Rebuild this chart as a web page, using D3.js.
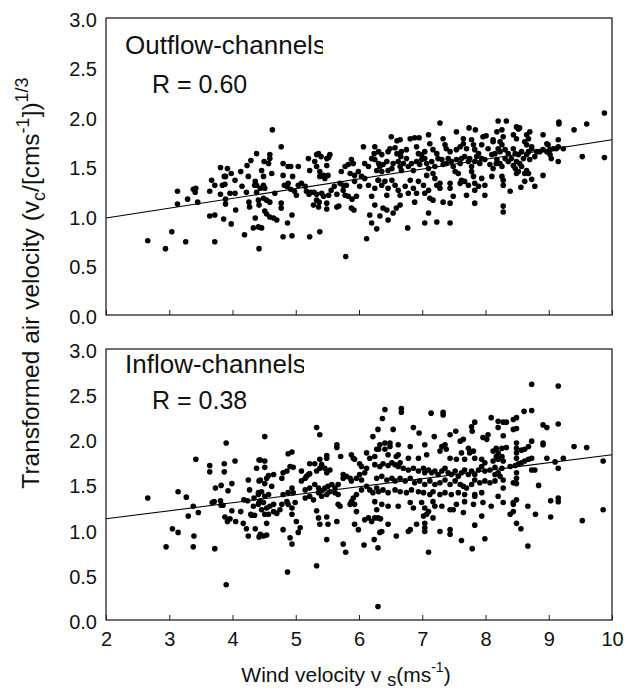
<!DOCTYPE html>
<html>
<head>
<meta charset="utf-8">
<script src="https://cdn.jsdelivr.net/npm/d3@7"></script>
<style>
body { margin: 0; background: #fff; }
text { font-family: "Liberation Sans", Arial, sans-serif; fill: #111; }
</style>
</head>
<body>
<script>
// points: [wind velocity, transformed air velocity]
var outflow = [
[2.66,0.75],[2.94,0.67],[3.04,0.84],[3.13,1.25],[3.13,1.12],[3.26,0.74],[3.29,1.17],[3.38,1.27],[3.41,1.24],[3.42,1.28],
[3.45,1.14],[3.64,1.25],[3.67,1.36],[3.64,1.00],[3.72,1.01],[3.72,0.74],[3.72,1.31],[3.81,1.49],[3.81,1.22],[3.84,1.31],
[3.88,1.32],[3.87,1.40],[3.89,1.40],[3.92,1.48],[3.89,1.17],[3.89,1.12],[3.86,0.97],[3.96,1.23],[4.04,1.23],[3.98,1.43],
[3.98,0.92],[4.04,1.36],[4.05,1.06],[4.13,1.45],[4.15,1.30],[4.22,1.24],[4.19,0.81],[4.23,1.51],[4.25,1.40],[4.26,1.14],
[4.27,1.09],[4.29,1.56],[4.33,0.88],[4.35,1.31],[4.38,1.24],[4.38,1.63],[4.41,1.16],[4.42,1.11],[4.42,0.67],
[4.44,1.28],[4.46,1.46],[4.49,1.40],[4.50,1.55],[4.57,1.53],[4.59,1.62],[4.59,1.58],[4.62,1.43],[4.49,1.31],[4.51,1.28],
[4.49,1.18],[4.54,1.16],[4.59,1.14],[4.36,0.98],[4.51,1.05],[4.54,1.02],[4.59,0.99],[4.65,0.98],[4.70,0.96],[4.41,0.89],
[4.46,0.88],[4.63,1.87],[4.77,1.70],[4.67,1.23],[4.77,1.13],[4.77,1.08],[4.80,1.53],[4.88,1.50],[4.92,1.50],[4.80,1.41],
[4.95,1.40],[5.04,1.50],[4.82,1.31],[4.86,1.30],[4.88,1.33],[4.92,1.27],[4.98,1.25],[5.01,1.21],[5.04,1.31],[5.09,1.33],
[5.15,1.30],[5.17,1.25],[5.21,1.22],[5.24,1.24],[5.29,1.24],[5.33,1.22],[4.94,1.01],[4.87,0.93],[4.80,0.79],[4.94,0.80],
[5.20,1.58],[5.22,1.46],[5.30,1.55],[5.33,1.62],[5.36,1.63],[5.40,1.60],[5.49,1.58],[5.52,1.59],[5.33,1.50],[5.38,1.45],
[5.44,1.41],[5.38,1.40],[5.46,1.38],[5.51,1.41],[5.22,0.79],[5.38,0.84],[5.28,1.11],[5.33,1.16],[5.37,1.14],[5.36,1.09],
[5.49,1.13],[5.49,1.07],[5.65,1.09],[5.68,1.10],[5.52,1.21],[5.56,1.26],[5.61,1.30],[5.65,1.22],[5.70,1.33],[5.75,1.31],
[5.80,1.31],[5.75,1.26],[5.78,1.21],[5.72,1.45],[5.78,1.50],[5.83,1.52],[5.88,1.57],[5.91,1.53],[5.86,1.43],[5.93,1.41],
[5.99,1.45],[6.04,1.40],[5.93,1.35],[5.88,1.08],[5.92,1.06],[5.83,1.20],[5.89,1.17],[5.96,1.20],[6.07,1.70],[6.12,0.77],
[5.79,0.59],[6.17,1.01],[6.20,0.93],[6.20,1.20],[6.25,1.11],[6.25,1.28],[6.30,1.36],[6.15,1.31],[6.09,1.38],[6.01,1.30],
[6.20,1.58],[6.24,1.63],[6.15,1.50],[6.09,1.53],[5.54,1.62],[5.49,1.51],[5.41,1.23],[5.44,1.20],[4.36,1.35],[4.38,1.31],
[7.28,1.94],[8.20,1.96],[6.51,1.80],[6.60,1.76],[6.65,1.77],[6.81,1.78],[6.88,1.79],[6.95,1.79],[7.10,1.82],[7.54,1.85],
[7.74,1.89],[7.84,1.87],[8.01,1.81],[8.12,1.77],[8.12,1.75],[6.25,1.70],[6.31,1.65],[6.36,1.62],[6.46,1.65],[6.49,1.68],
[6.57,1.69],[6.60,1.63],[6.66,1.60],[6.67,1.65],[6.75,1.67],[6.91,1.70],[6.94,1.63],[6.99,1.62],[7.04,1.65],[7.12,1.73],
[7.17,1.67],[7.23,1.63],[7.33,1.78],[7.36,1.72],[7.38,1.68],[7.44,1.65],[7.54,1.67],[7.60,1.70],[7.65,1.78],[7.65,1.73],
[7.70,1.68],[7.78,1.77],[7.81,1.72],[7.83,1.67],[7.89,1.63],[7.94,1.58],[7.96,1.80],[7.94,1.72],[8.04,1.68],[8.10,1.62],
[8.15,1.63],[8.20,1.68],
[6.25,1.57],[6.31,1.53],[6.33,1.50],[6.38,1.52],[6.44,1.55],[6.36,1.45],[6.28,1.46],[6.46,1.46],[6.52,1.48],[6.54,1.53],
[6.62,1.55],[6.65,1.50],[6.67,1.46],[6.70,1.53],[6.75,1.58],[6.78,1.50],[6.83,1.53],[6.86,1.46],[6.91,1.55],[6.96,1.52],
[6.99,1.57],[7.04,1.58],[7.07,1.53],[7.10,1.48],[7.15,1.55],[7.20,1.50],[7.25,1.58],[7.31,1.57],[7.33,1.52],[7.38,1.53],
[7.41,1.58],[7.46,1.55],[7.49,1.50],[7.54,1.57],[7.60,1.53],[7.62,1.58],[7.67,1.60],[7.73,1.55],[7.75,1.58],[7.78,1.50],
[7.83,1.55],[7.86,1.60],[7.91,1.53],[7.99,1.57],[8.07,1.52],[8.12,1.48],[8.17,1.53],
[6.31,1.36],[6.36,1.31],[6.41,1.35],[6.46,1.28],[6.44,1.21],[6.52,1.36],[6.57,1.31],[6.62,1.26],[6.65,1.21],[6.73,1.30],
[6.78,1.23],[6.81,1.36],[6.86,1.28],[6.91,1.23],[6.88,1.14],[6.94,1.35],[7.02,1.31],[7.04,1.23],[7.10,1.26],[7.07,1.41],
[7.17,1.43],[7.20,1.38],[7.23,1.31],[7.12,1.18],[7.17,1.16],[7.28,1.33],[7.28,1.28],[7.33,1.14],[7.44,1.33],[7.44,1.28],
[7.44,1.13],[7.49,1.20],[7.52,1.45],[7.57,1.43],[7.60,1.33],[7.62,1.36],[7.67,1.35],[7.70,1.21],[7.73,1.31],[7.78,1.45],
[7.81,1.40],[7.83,1.33],[7.83,1.26],[7.83,1.13],[7.89,1.30],[7.94,1.38],[7.99,1.31],[7.99,1.21],[8.10,1.40],
[6.33,1.00],[6.38,1.08],[6.44,1.06],[6.46,0.96],[6.54,1.03],[6.59,1.08],[6.65,1.11],[6.28,0.87],[6.77,0.88],[7.04,0.93],
[7.10,1.03],[7.23,0.94],[7.44,0.93],
[9.88,2.04],[9.60,1.93],[9.40,1.87],[9.16,1.95],[9.16,1.93],[8.91,1.82],[8.33,1.96],[8.49,1.90],[8.52,1.88],[8.54,1.89],
[8.26,1.87],[8.18,1.85],[8.28,1.80],[8.23,1.75],[8.26,1.72],[8.44,1.82],[8.49,1.78],[8.65,1.82],[8.68,1.78],[8.70,1.85],
[8.62,1.75],[8.65,1.72],[8.73,1.70],[8.97,1.73],[8.99,1.72],[9.15,1.77],[9.15,1.70],[9.12,1.68],[9.07,1.68],[9.02,1.67],
[8.97,1.65],[8.91,1.67],[8.86,1.65],[8.81,1.65],[9.23,1.68],[9.53,1.60],[9.88,1.59],[9.02,1.62],[9.04,1.58],[9.15,1.55],
[8.23,1.65],[8.31,1.67],[8.36,1.63],[8.44,1.68],[8.47,1.63],[8.52,1.62],[8.57,1.65],[8.60,1.58],[8.65,1.62],[8.68,1.65],
[8.78,1.60],[8.70,1.57],[8.73,1.68],[8.18,1.57],[8.23,1.53],[8.26,1.50],[8.31,1.58],[8.36,1.55],[8.41,1.58],[8.44,1.51],
[8.47,1.48],[8.49,1.55],[8.54,1.53],[8.57,1.50],[8.65,1.46],[8.68,1.43],[8.62,1.43],[8.49,1.43],[8.52,1.45],[8.91,1.41],
[8.26,1.40],[8.28,1.36],[8.28,1.31],[8.62,1.35],[8.73,1.37],[8.78,1.30],[8.56,1.29],[8.39,1.25],[8.28,1.10],[8.28,1.04]
];

var inflow = [
[2.66,1.35],[2.95,0.81],[3.05,1.01],[3.14,0.97],[3.14,1.42],[3.27,1.36],[3.30,1.15],[3.38,1.26],[3.39,0.93],[3.38,0.81],
[3.42,1.78],[3.46,1.19],[3.64,1.71],[3.64,1.64],[3.73,1.46],[3.72,0.79],[3.68,1.30],[3.71,1.31],[3.82,1.49],[3.81,1.32],
[3.82,1.27],[3.85,1.27],[3.87,1.73],[3.87,1.64],[3.90,1.96],[3.90,0.39],[3.93,1.43],[3.88,1.14],[3.92,1.09],[3.96,1.12],
[3.99,1.51],[4.04,1.76],[3.99,1.21],[4.05,1.09],[4.13,1.20],[4.17,1.07],[4.22,1.01],[4.25,0.93],[4.29,1.17],[4.25,1.55],
[4.27,1.44],[4.18,1.33],[4.24,1.32],[4.33,1.26],[4.35,1.16],[4.30,1.16],[4.34,1.35],[4.38,1.68],[4.42,1.77],[4.42,1.54],
[4.41,1.39],[4.42,1.30],[4.36,1.01],[4.42,0.92],
[4.51,2.03],[4.44,1.77],[4.51,1.76],[4.51,1.69],[4.44,1.55],[4.51,1.51],[4.54,1.57],[4.62,1.48],[4.57,1.60],[4.65,1.61],
[4.41,1.41],[4.46,1.42],[4.51,1.37],[4.57,1.39],[4.44,1.32],[4.41,1.28],[4.49,1.30],[4.54,1.24],[4.59,1.26],[4.65,1.28],
[4.46,1.22],[4.51,1.17],[4.57,1.17],[4.65,1.20],[4.70,1.18],[4.75,1.22],[4.78,1.28],[4.54,1.07],[4.44,0.95],[4.49,0.93],
[4.54,0.94],[4.78,1.57],[4.86,1.65],[4.80,1.63],[4.88,1.84],[4.94,1.86],[4.91,1.70],[4.96,1.69],[4.80,1.39],[4.88,1.41],
[4.94,1.46],[4.96,1.41],[4.86,1.31],[4.88,1.28],[4.94,1.24],[4.99,1.30],[4.94,1.17],[5.01,1.09],[5.07,1.02],[5.04,0.97],
[4.80,1.00],[4.91,0.91],[4.94,0.84],[4.87,0.53],[5.09,1.65],[5.15,1.57],[5.09,1.54],[5.17,1.59],[5.20,1.61],[5.22,1.62],
[5.22,1.73],[5.30,1.73],[5.38,1.78],[5.33,2.13],[5.38,2.05],[5.33,1.65],[5.38,1.68],[5.41,1.72],[5.46,1.68],[5.49,1.63],
[5.54,1.66],[5.49,1.79],[5.49,1.82],[5.15,1.44],[5.22,1.46],[5.30,1.50],[5.36,1.46],[5.41,1.43],[5.46,1.46],[5.51,1.48],
[5.57,1.50],[5.62,1.46],[5.67,1.50],[5.15,1.35],[5.22,1.37],[5.28,1.33],[5.36,1.41],[5.41,1.37],[5.49,1.39],[5.54,1.42],
[5.62,1.41],[5.33,1.21],[5.36,1.13],[5.38,1.06],[5.49,1.14],[5.51,1.06],[5.65,1.09],[5.49,0.89],[5.33,0.60],[5.65,1.94],
[5.65,1.91],[5.71,1.81],[5.67,1.28],[5.70,1.26],[5.67,1.39],[5.75,1.61],[5.80,1.59],[5.86,1.57],[5.75,1.57],[5.88,1.54],
[5.96,1.57],[6.01,1.61],[6.04,1.55],[6.09,1.63],[6.12,1.68],[5.88,1.83],[5.91,1.79],[6.01,1.73],[6.04,1.70],[5.93,1.78],
[6.12,1.85],[6.17,1.79],[6.25,1.81],[6.28,1.89],[6.22,2.03],[6.30,2.11],[5.88,1.31],[5.93,1.28],[5.86,1.28],[5.91,1.35],
[5.96,1.39],[6.04,1.44],[6.12,1.48],[6.17,1.44],[6.22,1.41],[6.28,1.46],[5.96,1.20],[6.09,1.11],[6.15,1.13],[6.20,1.09],
[6.25,1.13],[5.93,1.06],[5.99,1.00],[5.75,0.84],[5.79,0.75],[6.08,0.83],[6.24,0.89],[6.30,0.80],[6.30,0.15],
[6.41,2.33],[6.67,2.34],[6.67,2.30],[7.14,2.29],[7.33,2.30],[7.33,2.27],[6.37,2.23],[6.54,2.11],[6.86,2.13],[6.95,2.07],
[7.19,2.03],[7.53,2.09],[7.44,2.05],[7.83,2.19],[7.78,2.14],[7.79,2.09],[8.09,2.24],[8.20,2.20],[8.20,2.13],
[6.33,1.94],[6.41,1.96],[6.49,1.96],[6.49,1.92],[6.62,1.94],[6.81,1.92],[7.04,1.94],[7.31,1.92],[7.36,1.94],[7.60,1.98],
[7.65,2.00],[7.73,1.90],[7.96,2.02],[8.02,2.00],[8.04,2.05],[8.12,1.87],[8.17,1.90],
[6.31,1.89],[6.41,1.89],[6.46,1.83],[6.59,1.81],[6.62,1.83],[6.78,1.79],[6.94,1.79],[7.07,1.83],[7.28,1.87],[7.38,1.89],
[7.44,1.79],[7.54,1.78],[7.62,1.85],[7.67,1.78],[7.75,1.85],[7.81,1.87],[7.83,1.79],[7.94,1.78],[7.99,1.74],[8.12,1.76],
[8.17,1.81],
[6.25,1.72],[6.33,1.70],[6.38,1.73],[6.46,1.71],[6.52,1.74],[6.57,1.72],[6.62,1.70],[6.65,1.74],[6.70,1.68],[6.78,1.66],
[6.86,1.68],[6.94,1.65],[7.02,1.68],[7.04,1.63],[7.10,1.66],[7.15,1.63],[7.20,1.65],[7.25,1.61],[7.31,1.65],[7.36,1.68],
[7.41,1.63],[7.46,1.61],[7.52,1.65],[7.57,1.59],[7.62,1.63],[7.67,1.66],[7.73,1.61],[7.78,1.65],[7.83,1.61],[7.89,1.66],
[7.94,1.70],[7.99,1.65],[8.07,1.66],[8.15,1.61],[8.20,1.63],
[6.28,1.57],[6.36,1.59],[6.44,1.55],[6.52,1.57],[6.57,1.54],[6.65,1.57],[6.73,1.54],[6.81,1.57],[6.88,1.52],[6.96,1.54],
[7.04,1.50],[7.12,1.54],[7.20,1.50],[7.28,1.52],[7.36,1.55],[7.44,1.50],[7.52,1.54],[7.60,1.50],[7.65,1.48],[7.70,1.46],
[7.78,1.50],[7.83,1.55],[7.91,1.52],[7.99,1.54],[8.07,1.52],[8.15,1.54],
[6.31,1.42],[6.38,1.44],[6.46,1.41],[6.57,1.44],[6.65,1.42],[6.75,1.41],[6.83,1.44],[6.94,1.42],[7.02,1.41],[7.12,1.39],
[7.17,1.42],[7.28,1.39],[7.36,1.41],[7.46,1.39],[7.57,1.41],[7.67,1.39],[7.83,1.39],[7.94,1.41],
[6.25,1.31],[6.36,1.28],[6.46,1.26],[6.62,1.26],[6.81,1.30],[6.86,1.24],[6.99,1.30],[7.04,1.24],[7.10,1.20],[7.17,1.31],
[7.20,1.26],[7.31,1.26],[7.44,1.22],[7.54,1.28],[7.67,1.31],[7.81,1.28],[7.83,1.37],[7.96,1.30],[8.09,1.26],
[6.28,1.22],[6.30,1.13],[6.34,1.12],[6.46,1.06],[6.33,0.97],[6.36,0.98],[6.59,0.93],[6.78,0.98],[6.81,1.00],[6.91,1.06],
[7.04,1.07],[7.04,1.02],[7.04,0.98],[7.02,1.15],[7.07,1.17],[7.17,1.13],[7.28,0.98],[7.44,1.00],[7.44,0.95],[7.49,1.22],
[7.65,1.19],[7.62,0.88],[7.79,0.79],[7.83,1.05],[7.94,1.15],[7.99,0.90],[8.20,1.37],[7.10,0.75],
[8.73,2.61],[9.15,2.59],[8.61,2.31],[8.73,2.32],[8.44,2.22],[8.49,2.24],[8.28,2.19],[8.33,2.19],[8.44,2.11],[8.49,2.12],
[8.91,2.16],[8.97,2.13],[9.15,2.17],[8.28,2.04],[8.73,1.98],[8.91,1.96],[8.91,1.94],[8.26,1.90],[8.33,1.91],[8.49,1.96],
[8.49,1.90],[8.57,1.88],[8.62,1.89],[8.68,1.92],[9.40,1.92],[9.60,1.91],[8.20,1.85],[8.26,1.81],[8.20,1.78],[8.28,1.76],
[8.39,1.70],[8.47,1.71],[8.52,1.73],[8.57,1.74],[8.62,1.76],[8.68,1.78],[8.73,1.79],[8.49,1.79],[8.49,1.85],[8.15,1.69],
[8.26,1.68],[8.97,1.79],[9.10,1.75],[9.23,1.79],[9.86,1.76],[8.73,1.66],[8.78,1.66],[9.15,1.68],[8.49,1.63],[8.49,1.57],
[8.23,1.59],[8.28,1.55],[8.28,1.46],[8.44,1.52],[8.49,1.51],[8.84,1.49],[8.28,1.30],[8.44,1.30],[8.49,1.33],[8.44,1.28],
[8.67,1.26],[9.03,1.32],[9.15,1.35],[9.15,1.31],[9.86,1.22],[8.39,1.17],[8.44,1.20],[8.79,1.17],[9.03,1.14],[9.53,1.10],
[8.49,1.07],[8.56,1.01],[8.67,0.82]
];

// regression lines, end points at x = 2 and x = 10
var fitX = [2, 10];
var fitOutflow = [0.98, 1.77];
var fitInflow = [1.12, 1.83];

var xTicks = [2, 3, 4, 5, 6, 7, 8, 9, 10];
var yTicks = [0, 0.5, 1, 1.5, 2, 2.5, 3];

var width = 624, height = 689;
var left = 106, right = 612;

var svg = d3.select("body").append("svg")
    .attr("width", width)
    .attr("height", height);

var x = d3.scaleLinear().domain([2, 10]).range([left, right]);

function drawPanel(pts, fit, top, bottom, name, rText, clipRight, nameY, rY, showLabels, id) {
	var y = d3.scaleLinear().domain([0, 3]).range([bottom, top]);
	var g = svg.append("g");

	g.append("line")
	.attr("x1", x(fitX[0]))
	.attr("y1", y(fit[0]))
	.attr("x2", x(fitX[1]))
	.attr("y2", y(fit[1]))
	.attr("stroke", "#000")
	.attr("stroke-width", 1.1);

	g.selectAll(".dot")
	  .data(pts)
	  .enter().append("circle")
	  .attr("class", "dot")
	  .attr("r", 2.8)
	  .attr("cx", function(d) { return x(d[0]); })
	  .attr("cy", function(d) { return y(d[1]); })
	  .attr("fill", "#000");

	var xAxis = d3.axisBottom(x).tickValues(xTicks).tickSizeInner(-5).tickSizeOuter(0).tickPadding(12);
	if (!showLabels) xAxis.tickFormat("");
	var gx = g.append("g")
	.attr("transform", "translate(0," + bottom + ")")
	.call(xAxis);
	gx.select(".domain").remove();
	gx.selectAll("line").attr("stroke", "#222");
	gx.selectAll("text").attr("font-size", "20px").attr("fill", "#111")
	.attr("font-family", "Liberation Sans, Arial, sans-serif");

	var gy = g.append("g")
	.attr("transform", "translate(" + left + ",0)")
	.call(d3.axisLeft(y).tickValues(yTicks).tickSize(0).tickPadding(9).tickFormat(d3.format(".1f")));
	gy.select(".domain").remove();
	gy.selectAll("text").attr("font-size", "20px").attr("dy", "0.42em").attr("fill", "#111")
	.attr("font-family", "Liberation Sans, Arial, sans-serif");

	g.append("rect")
	.attr("x", left)
	.attr("y", top)
	.attr("width", right - left)
	.attr("height", bottom - top)
	.attr("fill", "none")
	.attr("stroke", "#222")
	.attr("stroke-width", 1.3);

	svg.append("clipPath").attr("id", id)
	.append("rect")
	.attr("x", left).attr("y", top)
	.attr("width", clipRight - left).attr("height", 60);

	g.append("text")
	.attr("x", 125)
	.attr("y", nameY)
	.attr("clip-path", "url(#" + id + ")")
	.attr("font-size", "26px")
	.text(name);

	g.append("text")
	.attr("x", 152)
	.attr("y", rY)
	.attr("font-size", "25px")
	.text(rText);
}

drawPanel(outflow, fitOutflow, 18, 315, "Outflow-channels", "R = 0.60", 323, 54, 93, false, "clipTop");
drawPanel(inflow, fitInflow, 349, 620, "Inflow-channels", "R = 0.38", 304, 373, 409, true, "clipBottom");

// y axis title
var yt = svg.append("text")
    .attr("transform", "translate(39,283) rotate(-90)")
    .attr("text-anchor", "middle")
    .attr("font-size", "24.5px");
yt.append("tspan").text("Transformed air velocity (v");
yt.append("tspan").attr("font-size", "18px").attr("dy", 6).text("c");
yt.append("tspan").attr("dy", -6).text("/[cms");
yt.append("tspan").attr("font-size", "18px").attr("dy", -10).text("-1");
yt.append("tspan").attr("dy", 10).text("])");
yt.append("tspan").attr("font-size", "18px").attr("dy", -11).text("1/3");

// x axis title
var xt = svg.append("text")
    .attr("x", 346)
    .attr("y", 682)
    .attr("text-anchor", "middle")
    .attr("font-size", "21px");
xt.append("tspan").text("Wind velocity v ");
xt.append("tspan").attr("font-size", "18px").attr("dy", 4).text("s");
xt.append("tspan").attr("dy", -4).text("(ms");
xt.append("tspan").attr("font-size", "14px").attr("dy", -10).text("-1");
xt.append("tspan").attr("dy", 10).text(")");
</script>
</body>
</html>
